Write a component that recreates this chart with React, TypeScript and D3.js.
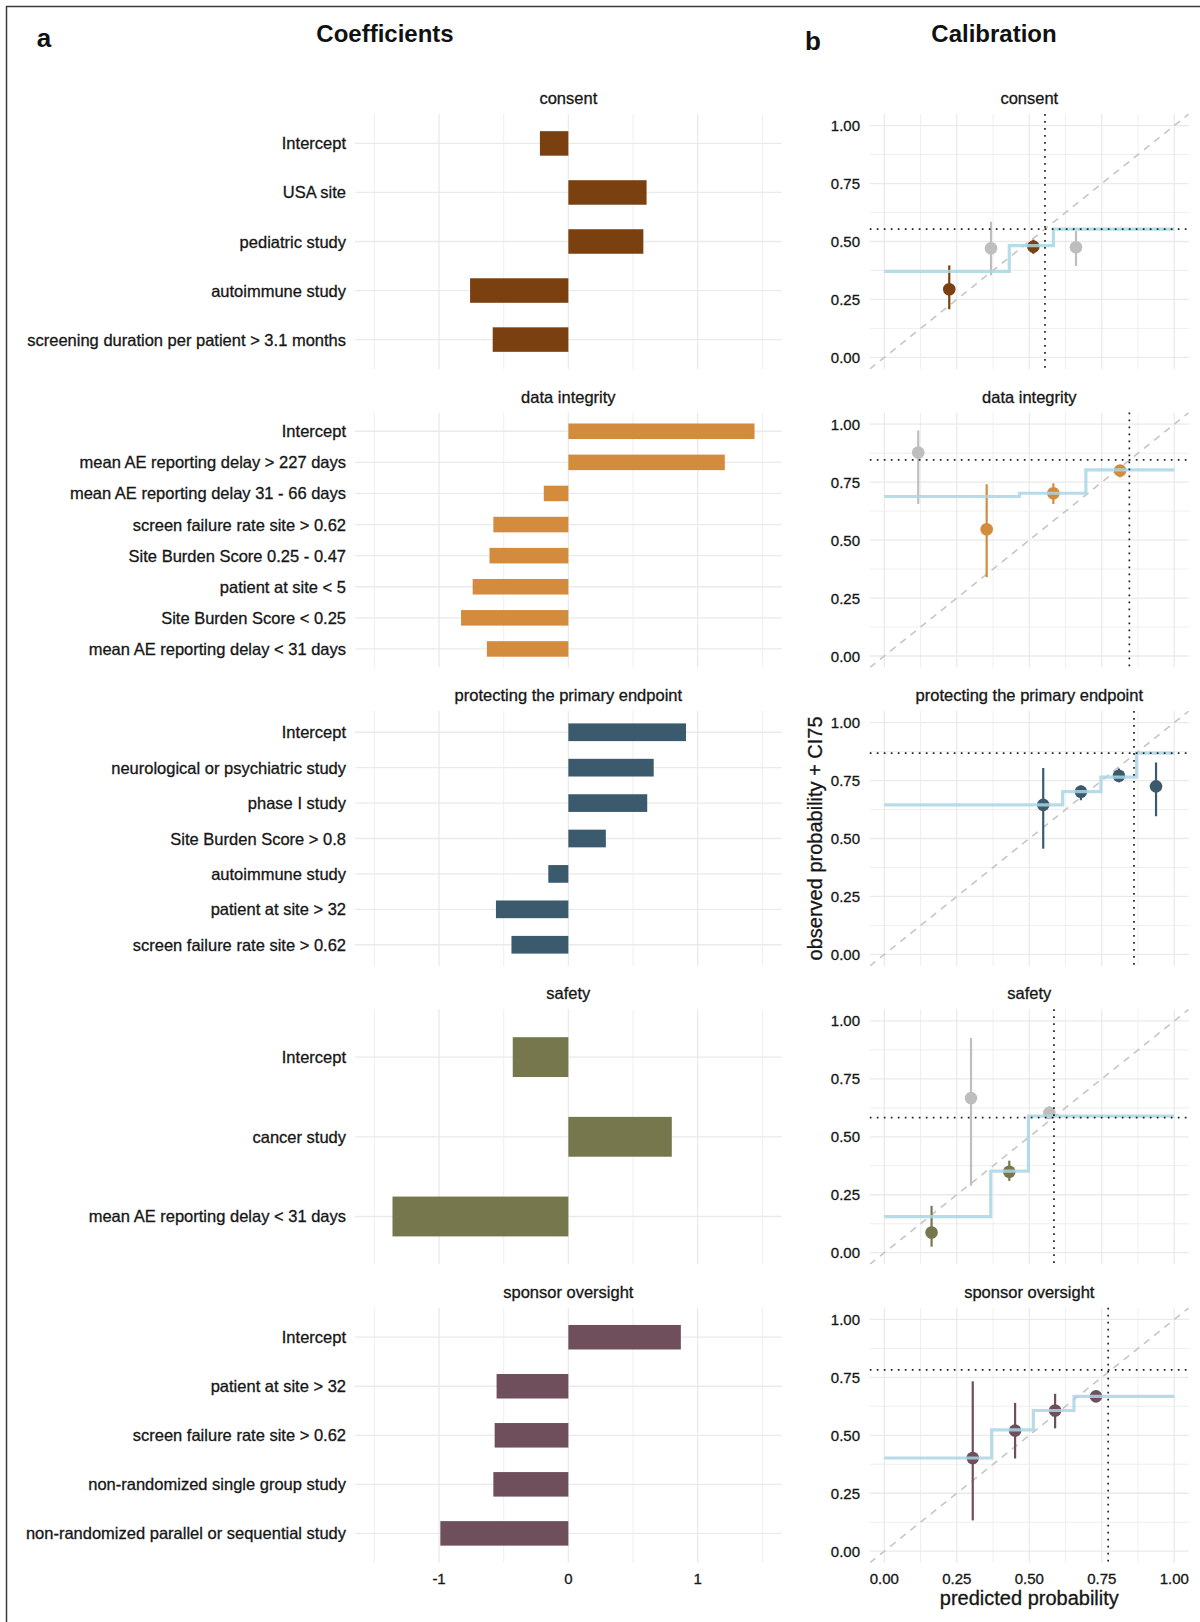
import React from "react";
import * as d3 from "d3";

// ---------------- DATA ----------------
const facetNames = [
  "consent",
  "data integrity",
  "protecting the primary endpoint",
  "safety",
  "sponsor oversight",
];
const facetColors = ["#7A400F", "#D38C3D", "#3C5A6E", "#76774D", "#6F4F5B"];

// coefficients (panel a)
const consentTerms = ["Intercept", "USA site", "pediatric study", "autoimmune study", "screening duration per patient > 3.1 months"];
const consentCoefs = [-0.22, 0.605, 0.58, -0.76, -0.585];

const integrityTerms = [
  "Intercept",
  "mean AE reporting delay > 227 days",
  "mean AE reporting delay 31 - 66 days",
  "screen failure rate site > 0.62",
  "Site Burden Score 0.25 - 0.47",
  "patient at site < 5",
  "Site Burden Score < 0.25",
  "mean AE reporting delay < 31 days",
];
const integrityCoefs = [1.44, 1.21, -0.19, -0.58, -0.61, -0.74, -0.83, -0.63];

const endpointTerms = [
  "Intercept",
  "neurological or psychiatric study",
  "phase I study",
  "Site Burden Score > 0.8",
  "autoimmune study",
  "patient at site > 32",
  "screen failure rate site > 0.62",
];
const endpointCoefs = [0.91, 0.66, 0.61, 0.29, -0.155, -0.56, -0.44];

const safetyTerms = ["Intercept", "cancer study", "mean AE reporting delay < 31 days"];
const safetyCoefs = [-0.43, 0.8, -1.36];

const oversightTerms = [
  "Intercept",
  "patient at site > 32",
  "screen failure rate site > 0.62",
  "non-randomized single group study",
  "non-randomized parallel or sequential study",
];
const oversightCoefs = [0.87, -0.555, -0.57, -0.58, -0.99];

const coefTerms = [consentTerms, integrityTerms, endpointTerms, safetyTerms, oversightTerms];
const coefValues = [consentCoefs, integrityCoefs, endpointCoefs, safetyCoefs, oversightCoefs];
const coefMajorTicks = [-1, 0, 1];
const coefMinorTicks = [-1.5, -0.5, 0.5, 1.5];

// calibration (panel b)
const consentPred = [0.224, 0.368, 0.514, 0.661];
const consentObs = [0.294, 0.471, 0.478, 0.475];
const consentLo = [0.208, 0.354, 0.447, 0.394];
const consentHi = [0.397, 0.585, 0.508, 0.545];
const consentColored = [true, false, true, false];
const consentStepX = [0, 0.431, 0.583, 1];
const consentStepY = [0.371, 0.482, 0.553];

const integrityPred = [0.117, 0.353, 0.583, 0.813];
const integrityObs = [0.878, 0.547, 0.702, 0.8];
const integrityLo = [0.656, 0.34, 0.656, 0.771];
const integrityHi = [0.973, 0.741, 0.745, 0.814];
const integrityColored = [false, true, true, true];
const integrityStepX = [0, 0.466, 0.695, 1];
const integrityStepY = [0.688, 0.702, 0.803];

const endpointPred = [0.548, 0.678, 0.809, 0.937];
const endpointObs = [0.645, 0.702, 0.771, 0.725];
const endpointLo = [0.456, 0.665, 0.742, 0.596];
const endpointHi = [0.804, 0.728, 0.802, 0.828];
const endpointColored = [true, true, true, true];
const endpointStepX = [0, 0.615, 0.747, 0.87, 1];
const endpointStepY = [0.645, 0.702, 0.765, 0.868];

const safetyPred = [0.163, 0.299, 0.431, 0.569];
const safetyObs = [0.087, 0.667, 0.349, 0.603];
const safetyLo = [0.026, 0.289, 0.31, 0.58];
const safetyHi = [0.202, 0.926, 0.397, 0.632];
const safetyColored = [true, false, true, false];
const safetyStepX = [0, 0.367, 0.497, 1];
const safetyStepY = [0.156, 0.352, 0.589];

const oversightPred = [0.305, 0.451, 0.589, 0.73];
const oversightObs = [0.402, 0.52, 0.607, 0.668];
const oversightLo = [0.133, 0.4, 0.53, 0.647];
const oversightHi = [0.733, 0.64, 0.679, 0.686];
const oversightColored = [true, true, true, true];
const oversightStepX = [0, 0.37, 0.514, 0.654, 1];
const oversightStepY = [0.402, 0.523, 0.607, 0.668];

const calibVline = [0.554, 0.845, 0.861, 0.585, 0.772];
const calibHline = [0.553, 0.846, 0.868, 0.583, 0.782];

const calibPred = [consentPred, integrityPred, endpointPred, safetyPred, oversightPred];
const calibObs = [consentObs, integrityObs, endpointObs, safetyObs, oversightObs];
const calibLo = [consentLo, integrityLo, endpointLo, safetyLo, oversightLo];
const calibHi = [consentHi, integrityHi, endpointHi, safetyHi, oversightHi];
const calibColored = [consentColored, integrityColored, endpointColored, safetyColored, oversightColored];
const calibStepX = [consentStepX, integrityStepX, endpointStepX, safetyStepX, oversightStepX];
const calibStepY = [consentStepY, integrityStepY, endpointStepY, safetyStepY, oversightStepY];

const probMajorTicks = [0, 0.25, 0.5, 0.75, 1];
const probMinorTicks = [0.125, 0.375, 0.625, 0.875];
const probTickLabels = ["0.00", "0.25", "0.50", "0.75", "1.00"];

// ---------------- LAYOUT ----------------
const FONT = "'Liberation Sans', Arial, Helvetica, sans-serif";
const PANEL_TOPS = [114, 412.6, 711, 1009.3, 1307.8];
const PANEL_H = 255;
const GRID = "#EAEAEA";
const GRAY_PT = "#BEBEBE";
const STEP_COLOR = "#AAD6E4";
const TEXT = "#161616";
const TEXT_STROKE = 0.3;

const xCoef = d3.scaleLinear().domain([-1.65, 1.65]).range([355, 781.7]);
const xProb = d3.scaleLinear().domain([-0.05, 1.05]).range([869.8, 1188.8]);

const txt = { fill: TEXT, stroke: TEXT, strokeWidth: TEXT_STROKE };

function CoefPanel({ f }: { f: number }) {
  const top = PANEL_TOPS[f];
  const bottom = top + PANEL_H;
  const terms = coefTerms[f];
  const vals = coefValues[f];
  const y = d3.scalePoint<string>().domain(terms).range([top, bottom]).padding(0.6);
  const step = y.step();
  const [x0, x1] = xCoef.range();
  return (
    <g>
      {coefMinorTicks.map((t) => (
        <line key={"mi" + t} x1={xCoef(t)} x2={xCoef(t)} y1={top} y2={bottom} stroke={GRID} strokeWidth={0.8} />
      ))}
      {coefMajorTicks.map((t) => (
        <line key={"ma" + t} x1={xCoef(t)} x2={xCoef(t)} y1={top} y2={bottom} stroke={GRID} strokeWidth={1.3} />
      ))}
      {terms.map((t) => (
        <line key={"h" + t} x1={x0} x2={x1} y1={y(t)} y2={y(t)} stroke={GRID} strokeWidth={1.3} />
      ))}
      {terms.map((t, i) => {
        const v = vals[i];
        const a = xCoef(Math.min(0, v));
        const b = xCoef(Math.max(0, v));
        return (
          <rect key={"b" + t} x={a} width={b - a} y={(y(t) as number) - step * 0.25} height={step * 0.5} fill={facetColors[f]} />
        );
      })}
      {terms.map((t) => (
        <text key={"l" + t} x={346} y={y(t)} textAnchor="end" dominantBaseline="central" fontSize={16.5} {...txt}>
          {t}
        </text>
      ))}
      <text x={xCoef(0)} y={top - 10} textAnchor="middle" fontSize={16.5} {...txt}>
        {facetNames[f]}
      </text>
    </g>
  );
}

function CalibPanel({ f }: { f: number }) {
  const top = PANEL_TOPS[f];
  const bottom = top + PANEL_H;
  const y = d3.scaleLinear().domain([-0.05, 1.05]).range([bottom, top]);
  const [x0, x1] = xProb.range();
  const color = facetColors[f];
  const pred = calibPred[f];
  const obs = calibObs[f];
  const lo = calibLo[f];
  const hi = calibHi[f];
  const colored = calibColored[f];
  const sx = calibStepX[f];
  const sy = calibStepY[f];
  const stepPts: [number, number][] = [];
  sy.forEach((lv, i) => {
    stepPts.push([sx[i], lv]);
    stepPts.push([sx[i + 1], lv]);
  });
  const stepLine = d3
    .line<[number, number]>()
    .x((d) => xProb(d[0]))
    .y((d) => y(d[1]))(stepPts);
  const clipId = "clip" + f;
  return (
    <g>
      <defs>
        <clipPath id={clipId}>
          <rect x={x0} y={top} width={x1 - x0} height={PANEL_H} />
        </clipPath>
      </defs>
      {probMinorTicks.map((t) => (
        <g key={"mi" + t}>
          <line x1={xProb(t)} x2={xProb(t)} y1={top} y2={bottom} stroke={GRID} strokeWidth={0.8} />
          <line x1={x0} x2={x1} y1={y(t)} y2={y(t)} stroke={GRID} strokeWidth={0.8} />
        </g>
      ))}
      {probMajorTicks.map((t) => (
        <g key={"ma" + t}>
          <line x1={xProb(t)} x2={xProb(t)} y1={top} y2={bottom} stroke={GRID} strokeWidth={1.3} />
          <line x1={x0} x2={x1} y1={y(t)} y2={y(t)} stroke={GRID} strokeWidth={1.3} />
        </g>
      ))}
      <line
        clipPath={`url(#${clipId})`}
        x1={xProb(-0.05)}
        y1={y(-0.05)}
        x2={xProb(1.05)}
        y2={y(1.05)}
        stroke="#C6C6C6"
        strokeWidth={1.6}
        strokeDasharray="7,6"
      />
      {pred.map((p, i) => (
        <line
          key={"e" + i}
          x1={xProb(p)}
          x2={xProb(p)}
          y1={y(lo[i])}
          y2={y(hi[i])}
          stroke={colored[i] ? color : GRAY_PT}
          strokeWidth={2.2}
        />
      ))}
      {pred.map((p, i) => (
        <circle key={"p" + i} cx={xProb(p)} cy={y(obs[i])} r={6.3} fill={colored[i] ? color : GRAY_PT} />
      ))}
      <path d={stepLine || ""} fill="none" stroke={STEP_COLOR} strokeWidth={3.2} strokeOpacity={0.85} />
      <line
        x1={xProb(calibVline[f])}
        x2={xProb(calibVline[f])}
        y1={top}
        y2={bottom}
        stroke="#222"
        strokeWidth={1.7}
        strokeDasharray="1.7,5.3"
      />
      <line
        x1={x0}
        x2={x1}
        y1={y(calibHline[f])}
        y2={y(calibHline[f])}
        stroke="#222"
        strokeWidth={1.7}
        strokeDasharray="1.7,5.3"
      />
      {probMajorTicks.map((t, i) => (
        <text key={"yl" + t} x={860} y={y(t)} textAnchor="end" dominantBaseline="central" fontSize={15} {...txt}>
          {probTickLabels[i]}
        </text>
      ))}
      <text x={(x0 + x1) / 2} y={top - 10} textAnchor="middle" fontSize={16.5} {...txt}>
        {facetNames[f]}
      </text>
    </g>
  );
}

export default function App() {
  const lastBottom = PANEL_TOPS[4] + PANEL_H;
  const colCenter = (PANEL_TOPS[0] + lastBottom) / 2;
  return (
    <div style={{ position: "absolute", left: 0, top: 0 }}>
      <svg width={1200} height={1622} style={{ display: "block", fontFamily: FONT }}>
        <rect x={0} y={0} width={1200} height={1622} fill="#fff" />
        <line x1={6} y1={6.5} x2={1200} y2={6.5} stroke="#3a3a3a" strokeWidth={1.5} />
        <line x1={6.5} y1={6} x2={6.5} y2={1622} stroke="#3a3a3a" strokeWidth={1.5} />

        <text x={44} y={47} textAnchor="middle" fontSize={26} fontWeight="bold" fill="#111">a</text>
        <text x={385} y={42} textAnchor="middle" fontSize={24} fontWeight="bold" fill="#111">Coefficients</text>
        <text x={813} y={50} textAnchor="middle" fontSize={26} fontWeight="bold" fill="#111">b</text>
        <text x={994} y={42} textAnchor="middle" fontSize={24} fontWeight="bold" fill="#111">Calibration</text>

        {facetNames.map((_, f) => (
          <CoefPanel key={"c" + f} f={f} />
        ))}
        {facetNames.map((_, f) => (
          <CalibPanel key={"k" + f} f={f} />
        ))}

        {coefMajorTicks.map((t) => (
          <text key={"xt" + t} x={xCoef(t)} y={1578} textAnchor="middle" dominantBaseline="central" fontSize={15} {...txt}>
            {String(t)}
          </text>
        ))}
        {probMajorTicks.map((t, i) => (
          <text key={"pt" + t} x={xProb(t)} y={1578} textAnchor="middle" dominantBaseline="central" fontSize={15} {...txt}>
            {probTickLabels[i]}
          </text>
        ))}
        <text x={(xProb.range()[0] + xProb.range()[1]) / 2} y={1605} textAnchor="middle" fontSize={20} {...txt}>
          predicted probability
        </text>
        <text
          transform={`translate(822, ${colCenter}) rotate(-90)`}
          textAnchor="middle"
          fontSize={20}
          {...txt}
        >
          observed probability + CI75
        </text>
      </svg>
    </div>
  );
}
